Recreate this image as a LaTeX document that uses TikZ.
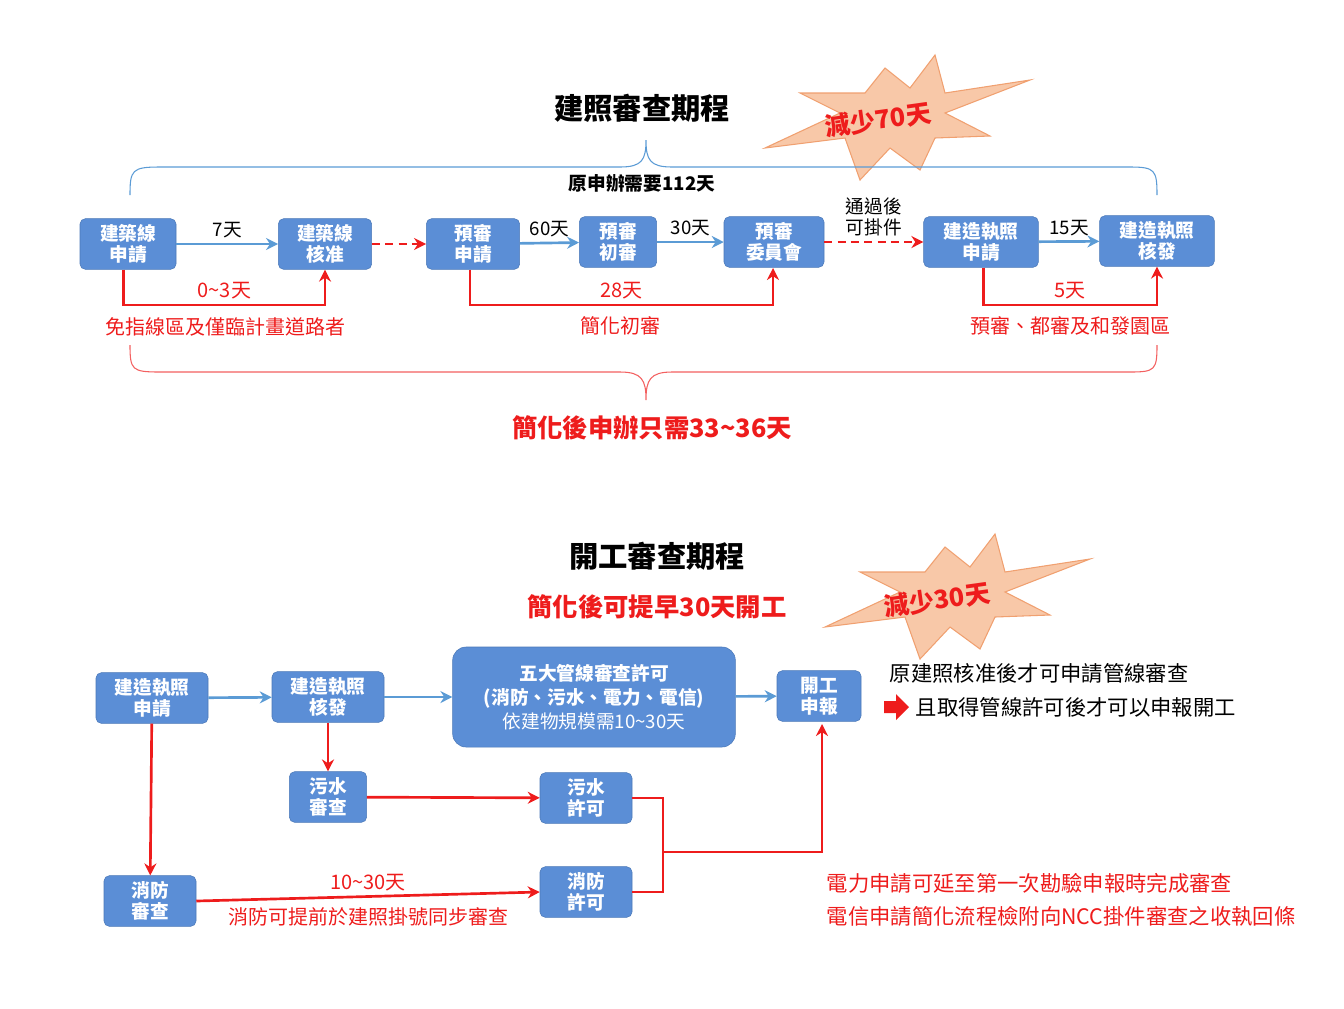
\documentclass[tikz,border=0pt]{standalone}
\usepackage{fontspec}
\setmainfont{Noto Sans CJK TC}
\usetikzlibrary{arrows.meta}
\definecolor{bx}{HTML}{5B8ED6}
\definecolor{bxd}{HTML}{4A78B8}
\definecolor{ba}{HTML}{5B9BD5}
\definecolor{rd}{HTML}{EE1C1C}
\definecolor{pe}{HTML}{F8C8A8}
\definecolor{peo}{HTML}{F0A070}
\begin{document}
\begin{tikzpicture}[x=0.75pt,y=-0.75pt,
 box/.style={draw=bxd,fill=bx,rounded corners=4pt,text=white,align=center,font=\fontsize{14}{16}\selectfont\bfseries,inner sep=3pt},
 barr/.style={draw=ba,line width=2pt,-{Stealth[length=9pt,width=9pt]}},
 rarr/.style={draw=rd,line width=2pt,-{Stealth[length=9pt,width=9pt]}},
 rline/.style={draw=rd,line width=2pt},
 dsh/.style={dash pattern=on 6pt off 4pt},
 lbl/.style={font=\fontsize{14}{16}\selectfont},
 rlbl/.style={font=\fontsize{15}{17}\selectfont,text=rd},
 star/.style={fill=pe,draw=peo,line width=0.8pt}]
\useasboundingbox (0,0) rectangle (1344,1008);
% top
\node[font=\fontsize{22}{24}\selectfont\bfseries] (t1) at (642,108) {建照審查期程};
\begin{scope}[shift={(890,118)}]
\path[star] (140,-38)--(55,-25)--(45,-63)--(20,-30)--(-5,-50)--(-25,-25)--(-90,-25)--(-50,-5)--(-125,30)--(-45,20)--(-30,62)--(0,30)--(30,52)--(45,20)--(100,18)--(55,-5)--cycle;
\end{scope}
\node[font=\fontsize{19}{21}\selectfont\bfseries,text=rd,rotate=8] (s1) at (878,120) {減少70天};
\draw[ba,line width=0.8pt] (130,195) .. controls (130,170) and (132,167) .. (160,167) -- (620,167) .. controls (642,167) and (646,160) .. (646,140) .. controls (646,160) and (650,167) .. (672,167) -- (1130,167) .. controls (1155,167) and (1157,170) .. (1157,195);
\node[font=\fontsize{14}{16}\selectfont\bfseries] (o1) at (642,183) {原申辦需要112天};
\node[box,minimum width=72pt,minimum height=38pt] (A) at (128,244) {建築線\\申請};
\node[box,minimum width=70pt,minimum height=38pt] (B) at (325,244) {建築線\\核准};
\node[box,minimum width=70pt,minimum height=38pt] (C) at (473,244) {預審\\申請};
\node[box,minimum width=58pt,minimum height=38pt] (D) at (618,242) {預審\\初審};
\node[box,minimum width=75pt,minimum height=38pt] (E) at (774,242) {預審\\委員會};
\node[box,minimum width=86pt,minimum height=38pt] (F) at (981,242) {建造執照\\申請};
\node[box,minimum width=86pt,minimum height=38pt] (G) at (1157,241) {建造執照\\核發};
\draw[barr] (A) -- node[lbl,above,text=black]{7天} (B);
\draw[rarr,dsh] (B) -- (C);
\draw[barr] (C) -- node[lbl,above,text=black]{60天} (D);
\draw[barr] (D) -- node[lbl,above,text=black]{30天} (E);
\draw[rarr,dsh] (E) -- node[lbl,above,text=black,align=center]{通過後\\可掛件} (F);
\draw[barr] (F) -- node[lbl,above,text=black]{15天} (G);
\draw[rarr] (A.south west)++(44,0) |- (325,305) node[rlbl,above,pos=0.75]{0\textasciitilde3天} -- (B.south);
\draw[rarr] (C.south west)++(44,0) |- (773,305) node[rlbl,above,pos=0.75]{28天} -- (773,268);
\draw[rarr] (F.south west)++(60,0) |- (1157,305) node[rlbl,above,pos=0.75]{5天} -- (G.south);
\node[rlbl] (n1) at (225,327) {免指線區及僅臨計畫道路者};
\node[rlbl] (n2) at (620,326) {簡化初審};
\node[rlbl] (n3) at (1070,326) {預審、都審及和發園區};
\draw[rd!70,line width=0.8pt] (130,345) .. controls (130,370) and (132,372) .. (160,372) -- (620,372) .. controls (642,372) and (646,380) .. (646,400) .. controls (646,380) and (650,372) .. (672,372) -- (1130,372) .. controls (1155,372) and (1157,370) .. (1157,345);
\node[font=\fontsize{19}{21}\selectfont\bfseries,text=rd] (r1) at (652,428) {簡化後申辦只需33\textasciitilde36天};
% bottom
\node[font=\fontsize{22}{24}\selectfont\bfseries] (t2) at (657,556) {開工審查期程};
\node[font=\fontsize{19}{21}\selectfont\bfseries,text=rd] (r2) at (657,607) {簡化後可提早30天開工};
\begin{scope}[shift={(950,597)}]
\path[star] (140,-38)--(55,-25)--(45,-63)--(20,-30)--(-5,-50)--(-25,-25)--(-90,-25)--(-50,-5)--(-125,30)--(-45,20)--(-30,62)--(0,30)--(30,52)--(45,20)--(100,18)--(55,-5)--cycle;
\end{scope}
\node[font=\fontsize{19}{21}\selectfont\bfseries,text=rd,rotate=8] (s2) at (937,600) {減少30天};
\node[box,minimum width=84pt,minimum height=38pt] (H) at (152,698) {建造執照\\申請};
\node[box,minimum width=84pt,minimum height=38pt] (I) at (328,697) {建造執照\\核發};
\node[box,minimum width=212pt,minimum height=75pt,rounded corners=10pt,font=\fontsize{14}{18}\selectfont\bfseries] (J) at (594,697) {五大管線審查許可\\(消防、污水、電力、電信)\\{\mdseries 依建物規模需10\textasciitilde30天}};
\node[box,minimum width=63pt,minimum height=38pt] (K) at (819,696) {開工\\申報};
\node[box,minimum width=58pt,minimum height=38pt] (L) at (328,797) {污水\\審查};
\node[box,minimum width=69pt,minimum height=38pt] (M) at (586,798) {污水\\許可};
\node[box,minimum width=69pt,minimum height=38pt] (N) at (150,901) {消防\\審查};
\node[box,minimum width=69pt,minimum height=38pt] (O) at (586,892) {消防\\許可};
\draw[barr] (H) -- (I);
\draw[barr] (I) -- (J);
\draw[barr] (J) -- (K);
\draw[rarr] (I) -- (L);
\draw[rarr] (L) -- (M);
\draw[rarr] (H) -- (N);
\draw[rarr] (N.east) -- node[rlbl,above]{10\textasciitilde30天} node[rlbl,below=4pt]{消防可提前於建照掛號同步審查} (O.west);
\coordinate (j1) at (663,852);
\draw[rline] (M.east) -| (j1) |- (O.east);
\draw[rarr] (j1) -| (822,724);
\node[font=\fontsize{16}{18}\selectfont,anchor=west] (x1) at (885,673) {原建照核准後才可申請管線審查};
\node[font=\fontsize{16}{18}\selectfont,anchor=west] (x2) at (911,707) {且取得管線許可後才可以申報開工};
\fill[rd] (884,701) -- (896,701) -- (896,694) -- (909,707) -- (896,720) -- (896,713) -- (884,713) -- cycle;
\node[rlbl,font=\fontsize{16}{18}\selectfont,anchor=west] (x3) at (822,883) {電力申請可延至第一次勘驗申報時完成審查};
\node[rlbl,font=\fontsize{16}{18}\selectfont,anchor=west] (x4) at (822,916) {電信申請簡化流程檢附向NCC掛件審查之收執回條};
\end{tikzpicture}
\end{document}
